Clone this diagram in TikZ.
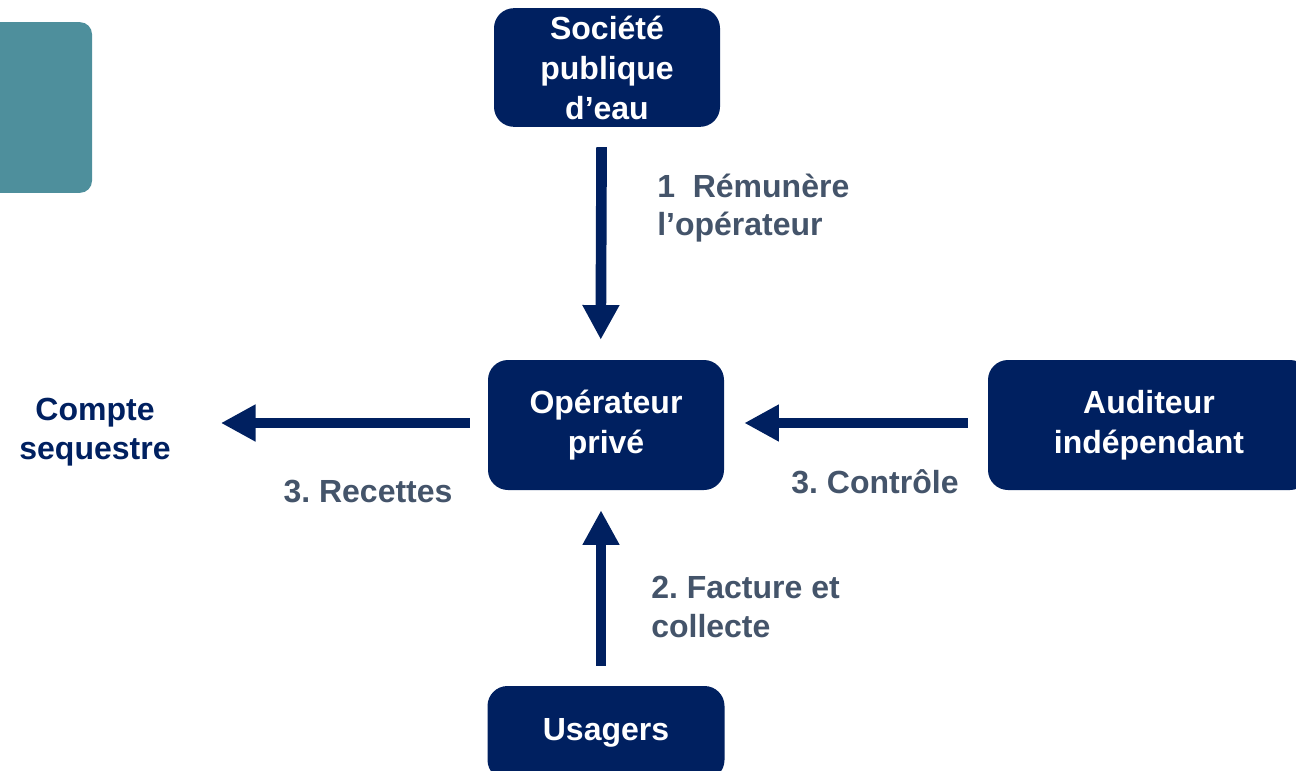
\documentclass[tikz,border=0pt]{standalone}
\usepackage{fontspec}
\setmainfont{Liberation Sans}
\usepackage{tikz}
\usetikzlibrary{arrows.meta,positioning}
\definecolor{navy}{HTML}{002060}
\definecolor{tealtab}{HTML}{4E8F9C}
\definecolor{slate}{HTML}{44546A}
\newcommand\bigbold{\fontsize{24}{29}\selectfont\bfseries\frenchspacing}
\newcommand\boxbold{\fontsize{24}{30}\selectfont\bfseries\frenchspacing}
\tikzset{
  actor/.style={fill=navy,rounded corners=15pt,text=white,align=center,font=\boxbold,inner sep=0pt},
  flow/.style={-{Triangle[length=26pt,width=26pt]},line width=8pt,draw=navy,shorten <=15pt,shorten >=15pt},
  flowlabel/.style={text=slate,font=\bigbold,inner sep=0pt},
  endpoint/.style={text=navy,font=\bigbold,align=center,inner sep=0pt}
}

\begin{document}
\begin{tikzpicture}[x=0.75pt,y=-0.75pt]
\useasboundingbox (0,0) rectangle (1296,771);
\node[fill=tealtab,rounded corners=9pt,minimum width=84pt,minimum height=128pt] (tab) at (36,107.5) {};
\node[actor,minimum width=169.5pt,minimum height=89pt] (soc) at (607,67.5) {Société\\publique\\d’eau};
\node[actor,minimum width=177pt,minimum height=97.5pt] (op) at (606,425) {Opérateur\\privé};
\node[actor,minimum width=241.5pt,minimum height=97.5pt] (aud) at (1149,425) {Auditeur\\indépendant};
\node[actor,minimum width=177.75pt,minimum height=70.5pt] (usa) at (606,733) {Usagers};
\node[endpoint] (compte) at (95,432) {Compte\\sequestre};
% flows
\draw[flow] ([xshift=-4pt]soc.south) -- ([xshift=-4pt]op.north);
\draw[flow,shorten <=13.5pt,shorten >=37.5pt] ([yshift=1.5pt]op.west) -- ([yshift=1.5pt]op.west -| compte.east);
\draw[flow,shorten <=0pt] ([yshift=1.5pt,xshift=-15pt]aud.west) -- ([yshift=1.5pt]op.east);
\draw[flow] ([xshift=-3.75pt]usa.north) -- ([xshift=-3.75pt]op.south);
\node[flowlabel,align=left,anchor=west] (pay) at (657,208) {1\ \ Rémunère\\l’opérateur};
\node[flowlabel] (rec) at (368,492) {3. Recettes};
\node[flowlabel] (ctl) at (875,482) {3. Contrôle};
\node[flowlabel,align=left,anchor=west] (bill) at (651,607) {2. Facture et\\collecte};
\end{tikzpicture}
\end{document}
